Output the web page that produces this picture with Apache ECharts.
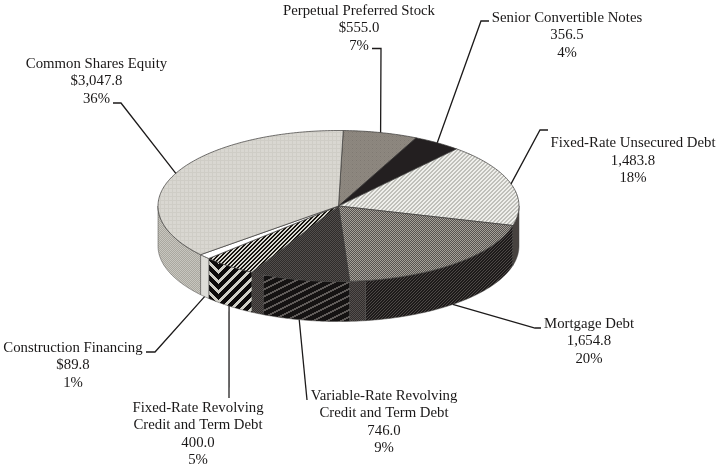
<!DOCTYPE html>
<html>
<head>
<meta charset="utf-8">
<style>html,body{margin:0;padding:0;background:#fff}#c{width:720px;height:468px}</style>
<script src="https://cdn.jsdelivr.net/npm/echarts@6/dist/echarts.min.js"></script>
</head>
<body>
<div id="c"></div>
<script>
// ---- data, clockwise from the top of the pie ----
const categories = ['Perpetual Preferred Stock','Senior Convertible Notes','Fixed-Rate Unsecured Debt','Mortgage Debt','Variable-Rate Revolving\nCredit and Term Debt','Fixed-Rate Revolving\nCredit and Term Debt','Construction Financing','Common Shares Equity'];
const values = [555.0, 356.5, 1483.8, 1654.8, 746.0, 400.0, 89.8, 3047.8];
const amountLabels = ['$555.0','356.5','1,483.8','1,654.8','746.0','400.0','$89.8','$3,047.8'];
const percentLabels = ['7%','4%','18%','20%','9%','5%','1%','36%'];

// ---- layout ----
const CX = 338.5, CY = 206, RX = 180.5, RY = 75.5, DEPTH = 40, START = 1.5;
const textAnchor = [[359,2],[567,9],[633,134.5],[589,315],[384,387],[198,399],[73,339],[96.5,55]];
const leaderTail = [
  [[381,48.5],[372,48.5]],
  [[481,21],[489,21]],
  [[540,130],[548,130]],
  [[535,328],[541,328]],
  [[307,400]],
  [[229,398]],
  [[155,352],[146,352]],
  [[121,103],[113,103]]
];
const leaderOnSide = [false,false,false,true,true,true,true,false];
const sideEndBand = [0,0,0,5,4,0,0,0];

// ---- fills ----
function tile(w,h,fn){
  const c=document.createElement('canvas');c.width=w;c.height=h;
  const g=c.getContext('2d');
  for(let y=0;y<h;y++)for(let x=0;x<w;x++){g.fillStyle=fn(x,y);g.fillRect(x,y,1,1);}
  return {image:c,repeat:'repeat'};
}
const dither=(a,b)=>tile(2,2,(x,y)=>(x+y)%2?a:b);
const stripes=(p,n,a,b)=>tile(p,p,(x,y)=>((x+y)%p<n)?a:b);
const topFills=[
  tile(4,4,(x,y)=>(x%4==0&&y%4==0)?'#7f7972':((x+y)%2?'#8e8880':'#8a847c')),
  '#231f20',
  stripes(4,2,'#efefeb','#c0c0ba'),
  dither('#565250','#a5a198'),
  dither('#2f2c2b','#524e4c'),
  stripes(4,2,'#17140f','#d8d7d0'),
  '#ffffff',
  tile(4,4,(x,y)=>(x%4==0||y%4==0)?'#cfcdc6':'#d9d7d1')
];
// chevron tile: width 44, vertex at page x=218
const chevron=tile(44,10,(x,y)=>{
  const k=((x-218)%44+44)%44; const d=k>34?k-44:k;
  return ((y+Math.abs(d))%10<4)?'#cfcec6':'#0d0b0b';
});
const sideFills=[
  '#444','#222','#47423f',
  stripes(3,1,'#4d4846','#1d1a1a'),
  tile(14,7,(x,y)=>((2*y+x)%14<4)?'#5e5a58':'#141212'),
  chevron,
  '#dddcd7',
  dither('#aaa8a0','#c8c6bf')
];
const bandFill=dither('#322e2d','#55504e');

// ---- geometry from values ----
const total=values.reduce((a,b)=>a+b,0);
const pt=(deg,dy)=>{const r=deg*Math.PI/180;return [CX+RX*Math.sin(r),CY-RY*Math.cos(r)+(dy||0)];};
function arc(a,b,dy){const n=Math.max(2,Math.ceil(Math.abs(b-a)));const out=[];for(let i=0;i<=n;i++)out.push(pt(a+(b-a)*i/n,dy));return out;}
function startAngle(idx){let s=0;for(let i=0;i<idx;i++)s+=values[i];return START+s/total*360;}
function sidePoly(a,b,fill){
  return {type:'polygon',shape:{points:arc(a,b,0).concat(arc(b,a,DEPTH))},
    style:{fill:fill,stroke:'#4a4846',lineWidth:0.5}};
}

function renderItem(params,api){
  const i=api.value(1), v=api.value(0);
  const a=startAngle(i), b=a+v/total*360, mid=(a+b)/2;
  const children=[];
  const sa=Math.max(a,90), sb=Math.min(b,270);
  if(sb>sa){
    const band=sideEndBand[i];
    children.push(sidePoly(sa,sb-band,sideFills[i]));
    if(band)children.push(sidePoly(sb-band,sb,bandFill));
  }
  children.push({type:'polygon',shape:{points:[[CX,CY]].concat(arc(a,b,0))},
    style:{fill:topFills[i],stroke:'#3a3836',lineWidth:0.7}});
  const p0=pt(mid,leaderOnSide[i]?DEPTH:0);
  children.push({type:'polyline',shape:{points:[p0].concat(leaderTail[i])},
    style:{fill:null,stroke:'#1c1a1a',lineWidth:1.3}});
  children.push({type:'text',style:{
    text:[categories[i],amountLabels[i],percentLabels[i]].join('\n'),
    x:textAnchor[i][0],y:textAnchor[i][1],align:'center',verticalAlign:'top',
    font:'14.8px "Liberation Serif"',lineHeight:17.5,fill:'#1a1818'}});
  return {type:'group',children:children};
}

const chart=echarts.init(document.getElementById('c'),null,{renderer:'canvas'});
chart.setOption({
  animation:false,
  backgroundColor:'#ffffff',
  series:[{type:'custom',coordinateSystem:'none',renderItem:renderItem,
    silent:true,clip:false,
    data:values.map((v,i)=>[v,i])}]
});
</script>
</body>
</html>
